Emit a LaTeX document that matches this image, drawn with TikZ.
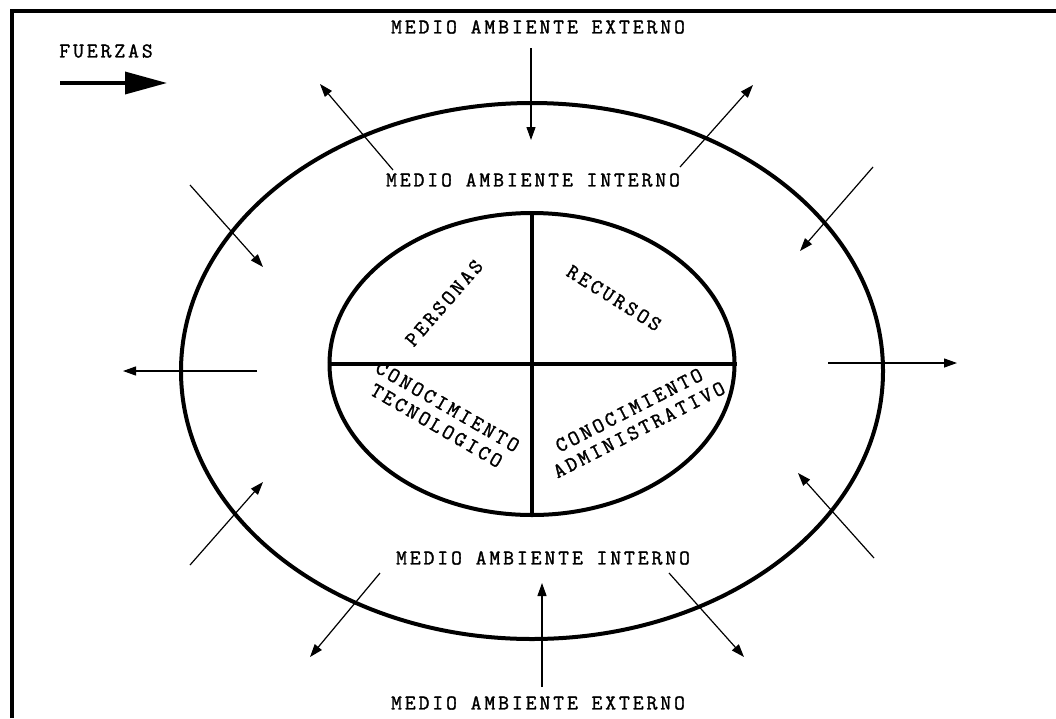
\documentclass[tikz,border=0pt]{standalone}
\usepackage{fontspec}
\usetikzlibrary{arrows.meta,shapes.geometric}
\newfontfamily\lblfont[LetterSpace=14,FakeBold=1.5]{Latin Modern Mono}
\tikzset{
  lbl/.style={font=\lblfont\fontsize{21}{22}\selectfont, inner sep=0pt, align=center},
  thinarrow/.style={line width=1.2pt, -{Triangle[length=13pt,width=9pt]}},
  ring/.style={draw, line width=4pt, ellipse, inner sep=0pt},
  frameline/.style={line width=3.5pt},
}
\begin{document}
\begin{tikzpicture}[x=1pt,y=-1pt]
\useasboundingbox (0,0) rectangle (1056,718);
\fill[white] (0,0) rectangle (1056,718);
% frame
\coordinate (ftl) at (12,11);
\coordinate (ftr) at (1056,11);
\coordinate (fbl) at (12,718);
\draw[frameline] (fbl) -- (ftl) -- (ftr);
% ellipses
\node[ring, minimum width=702pt, minimum height=536pt] (outer) at (532,371) {};
\node[ring, minimum width=405pt, minimum height=302pt] (inner) at (532,364) {};
\draw[line width=3.5pt] (inner.north) -- (inner.south);
\draw[line width=3.5pt] (inner.west) -- (inner.east);
% legend
\node[lbl] (fz) at (106,51) {FUERZAS};
\coordinate (fa1) at (60,83);
\coordinate (fa2) at (167,83);
\draw[line width=3.5pt, -{Triangle[length=42pt,width=22pt]}] (fa1) -- (fa2);
% labels
\node[lbl] (ext1) at (538,27) {MEDIO AMBIENTE EXTERNO};
\node[lbl] (int1) at (533,180) {MEDIO AMBIENTE INTERNO};
\node[lbl] (int2) at (543,558) {MEDIO AMBIENTE INTERNO};
\node[lbl] (ext2) at (538,703) {MEDIO AMBIENTE EXTERNO};
\node[lbl, rotate=49] (pers) at (444,303) {PERSONAS};
\node[lbl, rotate=-32] (rec) at (614,298) {RECURSOS};
\node[lbl, rotate=-30] (ctec) at (442,416) {CONOCIMIENTO\\TECNOLOGICO};
\node[lbl, rotate=27] (cadm) at (634,420) {CONOCIMIENTO\\ADMINISTRATIVO};
% arrows
\coordinate (a1s) at (531,48);  \coordinate (a1e) at (531,140);
\coordinate (a2s) at (393,170); \coordinate (a2e) at (320,84);
\coordinate (a3s) at (680,167); \coordinate (a3e) at (753,85);
\coordinate (a4s) at (873,167); \coordinate (a4e) at (800,251);
\coordinate (a5s) at (828,363); \coordinate (a5e) at (957,363);
\coordinate (a6s) at (874,558); \coordinate (a6e) at (798,473);
\coordinate (a7s) at (669,573); \coordinate (a7e) at (744,657);
\coordinate (a8s) at (542,687); \coordinate (a8e) at (542,583);
\coordinate (a9s) at (380,573); \coordinate (a9e) at (310,657);
\coordinate (a10s) at (190,565); \coordinate (a10e) at (263,482);
\coordinate (a11s) at (257,371); \coordinate (a11e) at (123,371);
\coordinate (a12s) at (190,185); \coordinate (a12e) at (263,267);
\foreach \i in {1,...,12}{\draw[thinarrow] (a\i s) -- (a\i e);}
\end{tikzpicture}
\end{document}
